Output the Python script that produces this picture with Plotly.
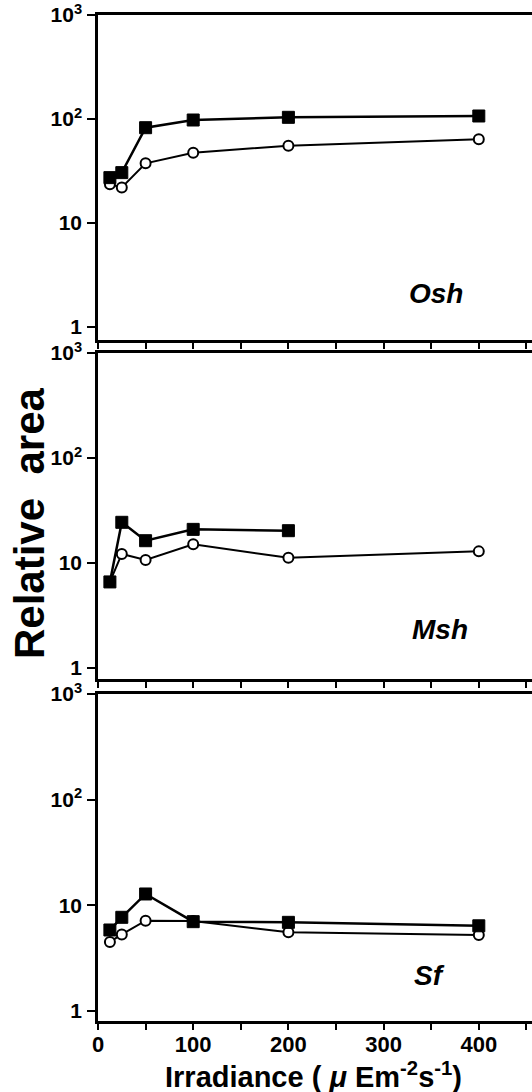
import plotly.graph_objects as go

# ---- data ----
irradiance = [12.5, 25, 50, 100, 200, 400]

osh_filled = [27.3, 30.5, 82.5, 97.8, 103.8, 106.9]
osh_open = [23.6, 22.0, 37.5, 47.4, 55.4, 63.8]

msh_x_filled = [12.5, 25, 50, 100, 200]
msh_filled = [6.6, 24.4, 16.3, 20.9, 20.3]
msh_open = [6.6, 12.2, 10.7, 15.1, 11.2, 12.9]

sf_filled = [5.84, 7.7, 12.8, 7.0, 6.9, 6.4]
sf_open = [4.5, 5.3, 7.15, 7.1, 5.55, 5.24]

panel_names = ["Osh", "Msh", "Sf"]
x_tickvals = [0, 100, 200, 300, 400]
x_ticktext = ["0", "100", "200", "300", "400"]
y_tickvals = [1, 10, 100, 1000]
y_ticktext = ["1", "10", "10<sup>2</sup>", "10<sup>3</sup>"]

W, H = 532, 1092
FONT = "Liberation Sans, Arial, sans-serif"

# pixel layout of panels (top, bottom) and y-range lower limit (log)
panels_px = [(15, 340, -0.125), (353, 679, -0.105), (694, 1021, -0.095)]
x_left_px = 98
x_range = [0, (W - x_left_px) / 0.952]

fig = go.Figure()

series = [
    (irradiance, osh_open, irradiance, osh_filled),
    (irradiance, msh_open, msh_x_filled, msh_filled),
    (irradiance, sf_open, irradiance, sf_filled),
]

for i, (xo, yo, xf, yf) in enumerate(series):
    ax = "" if i == 0 else str(i + 1)
    fig.add_trace(go.Scatter(
        x=xo, y=yo, mode="lines+markers",
        xaxis="x" + ax, yaxis="y" + ax,
        line=dict(color="black", width=2),
        marker=dict(symbol="circle", size=10, color="white",
                    line=dict(color="black", width=2)),
        showlegend=False, hoverinfo="skip"))
    fig.add_trace(go.Scatter(
        x=xf, y=yf, mode="lines+markers",
        xaxis="x" + ax, yaxis="y" + ax,
        line=dict(color="black", width=2.5),
        marker=dict(symbol="square", size=12, color="black",
                    line=dict(color="black", width=1)),
        showlegend=False, hoverinfo="skip"))

layout = dict(
    template="none",
    width=W, height=H,
    margin=dict(l=0, r=0, t=0, b=0, pad=0, autoexpand=False),
    paper_bgcolor="white", plot_bgcolor="white",
    font=dict(family=FONT, color="black"),
)

for i, (top, bot, ylo) in enumerate(panels_px):
    ax = "" if i == 0 else str(i + 1)
    layout["xaxis" + ax] = dict(
        domain=[x_left_px / W, 1.0],
        range=x_range,
        anchor="y" + ax,
        automargin=False,
        tickvals=x_tickvals, ticktext=x_ticktext,
        ticks="outside", ticklen=6, tickwidth=1.5, tickcolor="black",
        minor=dict(tick0=50, dtick=100, ticks="outside", ticklen=6,
                   tickwidth=1.5, tickcolor="black", showgrid=False),
        showticklabels=(i == 2),
        ticklabelstandoff=-4,
        ticklabeloverflow="allow",
        tickfont=dict(family=FONT, size=22, color="black", weight="bold"),
        showline=True, linecolor="black", linewidth=2.5, mirror=True,
        showgrid=False, zeroline=False,
    )
    layout["yaxis" + ax] = dict(
        domain=[(H - bot) / H, (H - top) / H],
        type="log", range=[ylo, 3],
        anchor="x" + ax,
        automargin=False,
        tickvals=y_tickvals, ticktext=y_ticktext,
        ticks="outside", ticklen=8, tickwidth=1.5, tickcolor="black",
        ticklabelstandoff=1,
        ticklabeloverflow="allow",
        tickfont=dict(family=FONT, size=21, color="black", weight="bold"),
        showline=True, linecolor="black", linewidth=2.5,
        showgrid=False, zeroline=False,
    )

fig.update_layout(**layout)

# panel labels
label_pos = [(436, 293), (440, 629), (429, 975)]
for name, (px, py) in zip(panel_names, label_pos):
    fig.add_annotation(
        x=px / W, y=(H - py) / H, xref="paper", yref="paper",
        text="<b><i>" + name + "</i></b>", showarrow=False,
        font=dict(family=FONT, size=28, color="black"),
        xanchor="center", yanchor="middle")

# axis titles
fig.add_annotation(
    x=29 / W, y=(H - 524) / H, xref="paper", yref="paper",
    text="<b>Relative\u00a0\u00a0area</b>", showarrow=False, textangle=-90,
    font=dict(family=FONT, size=42, color="black"),
    xanchor="center", yanchor="middle")
fig.add_annotation(
    x=313 / W, y=(H - 1075) / H, xref="paper", yref="paper",
    text="<b>Irradiance (\u00a0<i>\u03bc</i>\u00a0Em<sup>-2</sup>s<sup>-1</sup>)</b>",
    showarrow=False,
    font=dict(family=FONT, size=29, color="black"),
    xanchor="center", yanchor="middle")

fig.write_html("out.html")
